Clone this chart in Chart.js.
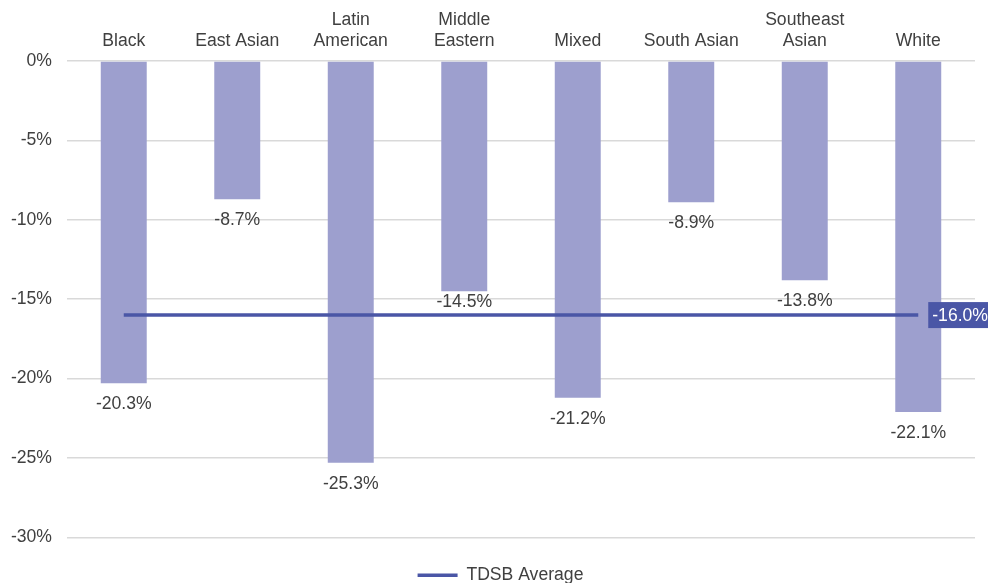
<!DOCTYPE html>
<html>
<head>
<meta charset="utf-8">
<script src="https://cdn.jsdelivr.net/npm/chart.js@4"></script>
<style>
  html, body { margin: 0; padding: 0; background: #fff; }
  #wrap { width: 988px; height: 583px; }
</style>
</head>
<body>
<div id="wrap"><canvas id="c" width="988" height="583"></canvas></div>
<script>
// Change in rate by student group, with the board-wide average
const categories = ['Black', 'East Asian', ['Latin', 'American'], ['Middle', 'Eastern'], 'Mixed', 'South Asian', ['Southeast', 'Asian'], 'White'];
const groupValues = [-20.3, -8.7, -25.3, -14.5, -21.2, -8.9, -13.8, -22.1];
const averageValue = -16.0;
const averageLabel = 'TDSB Average';
const yTicks = [0, -5, -10, -15, -20, -25, -30];

const FONT = 'Liberation Sans, Arial, Helvetica, sans-serif';
const TEXT = '#404040';
const BAR = '#9d9fce';
const LINE = '#4a56a6';

// Value labels under each bar, plus the boxed label at the end of the average line
const labelPlugin = {
  id: 'valueLabels',
  afterLayout(chart) {
    // centre the legend under the plot area rather than the whole canvas
    const lg = chart.legend;
    if (lg) {
      const shift = 13;
      lg.left += shift;
      lg.right += shift;
      if (lg.adjustHitBoxes) lg.adjustHitBoxes();
    }
  },
  afterDatasetsDraw(chart) {
    const ctx = chart.ctx;
    const y = chart.scales.y;
    const lineY = y.getPixelForValue(averageValue);
    const barMeta = chart.getDatasetMeta(1);
    ctx.save();
    ctx.font = '17.6px ' + FONT;
    ctx.fillStyle = TEXT;
    ctx.textAlign = 'center';
    ctx.textBaseline = 'middle';
    barMeta.data.forEach((bar, i) => {
      let ty = bar.y + 21;
      // keep a label clear of the average line when it would sit on it
      if (ty + 9 > lineY - 2 && ty - 9 < lineY + 2) ty = lineY - 13;
      ctx.fillText(groupValues[i].toFixed(1) + '%', bar.x, ty);
    });

    const lineMeta = chart.getDatasetMeta(0);
    const last = lineMeta.data[lineMeta.data.length - 1];
    const txt = averageValue.toFixed(1) + '%';
    const tw = ctx.measureText(txt).width;
    const bx = last.x + 10;
    ctx.fillStyle = LINE;
    ctx.fillRect(bx, lineY - 13, tw + 10, 26);
    ctx.fillStyle = '#ffffff';
    ctx.textAlign = 'left';
    ctx.fillText(txt, bx + 4, lineY + 1);
    ctx.restore();
  }
};

new Chart(document.getElementById('c'), {
  data: {
    labels: categories,
    datasets: [
      {
        type: 'line',
        label: averageLabel,
        data: categories.map(() => averageValue),
        borderColor: LINE,
        backgroundColor: LINE,
        borderWidth: 3.5,
        pointRadius: 0,
        pointStyle: 'line',
        order: 0
      },
      {
        type: 'bar',
        label: 'Change',
        data: groupValues,
        backgroundColor: BAR,
        barPercentage: 0.405,
        categoryPercentage: 1.0,
        order: 1
      }
    ]
  },
  options: {
    responsive: false,
    animation: false,
    layout: { padding: { left: 0, right: 13, top: 0, bottom: -11 } },
    plugins: {
      tooltip: { enabled: false },
      legend: {
        position: 'bottom',
        labels: {
          filter: item => item.text === averageLabel,
          usePointStyle: true,
          pointStyleWidth: 40,
          boxHeight: 17,
          color: TEXT,
          font: { family: FONT, size: 17.6 },
          padding: 29
        }
      }
    },
    scales: {
      x: {
        position: 'top',
        offset: true,
        grid: { display: false },
        border: { display: false },
        ticks: { color: TEXT, font: { family: FONT, size: 17.6 }, padding: 1, maxRotation: 0 },
        afterFit: s => { s.height = 61; }
      },
      y: {
        min: -30,
        max: 0,
        afterBuildTicks: s => { s.ticks = yTicks.map(v => ({ value: v })); },
        grid: { color: '#d9d9d9', lineWidth: 1.5, drawTicks: false },
        border: { display: false },
        ticks: { color: TEXT, font: { family: FONT, size: 17.6 }, padding: 15, callback: v => v + '%' },
        afterFit: s => { s.width = 67; }
      }
    }
  },
  plugins: [labelPlugin]
});
</script>
</body>
</html>
